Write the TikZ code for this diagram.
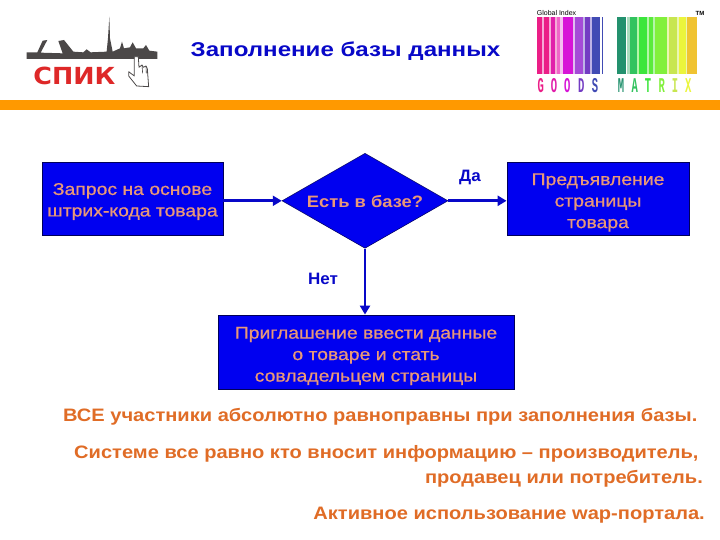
\documentclass[tikz,border=0pt]{standalone}
\usepackage{fontspec}
\setmainfont{Liberation Sans}
\newfontfamily\monof{Liberation Mono}
\newfontfamily\heavyf{DejaVu Sans}
\newfontfamily\midf[RawFeature={embolden=0.7}]{Liberation Sans}
\usetikzlibrary{shapes.geometric,arrows.meta,positioning}
\definecolor{bluefill}{RGB}{0,0,240}
\definecolor{bluetext}{RGB}{8,8,200}
\definecolor{peach}{RGB}{232,152,120}
\definecolor{orangetext}{RGB}{224,108,38}
\definecolor{bandor}{RGB}{255,153,0}
\definecolor{bordark}{RGB}{0,0,90}
\definecolor{skyg}{RGB}{75,72,72}
\definecolor{spikred}{RGB}{222,40,40}
\definecolor{bce}{RGB}{235,30,135}
\definecolor{bcf}{RGB}{225,30,170}
\definecolor{bcg}{RGB}{240,100,200}
\definecolor{bcm}{RGB}{215,20,215}
\definecolor{bcp}{RGB}{165,75,215}
\definecolor{bcv}{RGB}{115,60,195}
\definecolor{bci}{RGB}{65,75,180}
\definecolor{bcq}{RGB}{245,170,215}
\definecolor{bcr}{RGB}{245,190,240}
\definecolor{bcs}{RGB}{225,190,240}
\definecolor{bcu}{RGB}{190,180,230}
\definecolor{bct}{RGB}{35,145,110}
\definecolor{bch}{RGB}{50,195,95}
\definecolor{bcl}{RGB}{60,230,60}
\definecolor{bcj}{RGB}{90,235,60}
\definecolor{bck}{RGB}{130,240,60}
\definecolor{bcy}{RGB}{200,230,80}
\definecolor{bcz}{RGB}{235,245,60}
\definecolor{bco}{RGB}{240,195,50}
\definecolor{bcw}{RGB}{170,220,190}
\definecolor{bcn}{RGB}{180,245,170}
\definecolor{bcx}{RGB}{235,245,180}
\tikzset{
  flowbox/.style={draw=bordark,fill=bluefill,line width=0.8pt,rectangle,inner sep=0pt},
  flowdia/.style={draw=bordark,fill=bluefill,line width=0.5pt,diamond,inner sep=0pt,minimum width=166pt,minimum height=95pt,aspect=1.75},
  boxtext/.style={text=peach,font=\midf\fontsize{17}{21.5}\selectfont,align=center,inner sep=0pt,xscale=1.14,transform shape},
  diatext/.style={text=peach,font=\fontsize{16.5}{20}\selectfont\bfseries,inner sep=0pt,xscale=1.11,transform shape},
  ftext/.style={text=bluetext,font=\fontsize{16.5}{20}\selectfont\bfseries,inner sep=0pt,xscale=1.03,transform shape},
  btext/.style={text=orangetext,font=\fontsize{18}{20}\selectfont\bfseries,inner sep=0pt,xscale=1.115,transform shape},
  flow/.style={draw=bluetext,line width=2.6pt,-{Triangle[length=9pt,width=10pt]}},
  barletter/.style={font=\monof\bfseries\fontsize{21}{21}\selectfont,inner sep=0pt,xscale=.5,transform shape},
}
\begin{document}
\begin{tikzpicture}[x=1pt,y=-1pt]
\useasboundingbox (0,0) rectangle (720,540);
\fill[white] (0,0) rectangle (720,540);
% band
\fill[bandor] (0,100) rectangle (720,110.5);
% logo (coordinates from enlarged crop)
\begin{scope}[shift={(20,10)},x=0.3333pt,y=-0.3333pt]
\fill[skyg] (20,127)--(52,127)--(68,92)--(82,90)--(62,128)--(128,130)--(115,93)--(132,90)--(160,125)--(190,127)--(200,118)--(212,127)--(260,125)--(264,85)--(268,20)--(270,85)--(278,125)--(300,115)--(306,95)--(312,115)--(330,112)--(338,97)--(348,115)--(370,115)--(378,105)--(388,122)--(412,125)--(412,147)--(20,147)--cycle;
\node[inner sep=0pt,text=spikred,font=\heavyf\fontsize{23.5}{25}\selectfont\bfseries] (spik) at (163,197) {\scalebox{1.08}[1]{СПИК}};
\draw[skyg,fill=white,line width=0.8pt,line join=round] (343,140)--(355,140)--(357,172)--(366,165)--(370,172)--(378,168)--(382,176)--(386,230)--(350,228)--(326,198)--(326,185)--(343,198)--cycle;
\draw[skyg,line width=0.6pt] (366,165)--(368,190) (378,168)--(379,190);
\end{scope}
% title
\node[ftext,font=\fontsize{20}{24}\selectfont\bfseries,xscale=1.17] (title) at (345.5,51) {Заполнение базы данных};
% barcode
\begin{scope}[shift={(510,0)},x=0.3333pt,y=-0.3333pt]
\node[inner sep=0pt,font=\fontsize{7}{8}\selectfont,anchor=west] (gi) at (80,38) {Global Index};
\node[inner sep=0pt,font=\fontsize{6}{7}\selectfont\bfseries] (tm) at (570,39) {TM};
\foreach \a/\b/\c in {
 82/96/e,102/118/e,124/136/f,140/150/g,158/188/m,196/220/p,226/240/v,246/270/i,275/280/i,
 322/348/t,360/380/h,388/412/l,416/430/j,435/470/k,478/500/y,508/528/z,532/560/o,
 96/102/q,118/124/q,136/140/q,150/158/r,188/196/s,220/226/u,240/246/u,352/360/w,380/388/n,412/416/n,430/435/n,470/478/x,500/508/x,528/532/x}{
 \fill[color=bc\c] (\a,52) rectangle (\b,222);}
\foreach \ch/\xx/\c in {G/92/e,O/132/f,O/172/m,D/214/v,S/255/i,M/333/t,A/374/h,T/414/l,R/455/k,I/495/y,X/535/z}{
 \node[barletter,text=bc\c] at (\xx,256) {\ch};}
\end{scope}
% flow nodes
\node[flowbox,minimum width=181pt,minimum height=73pt,
  label={[boxtext,yshift=-2.5pt]center:Запрос на основе\\штрих-кода товара}] (q) at (132.5,199) {};
\node[flowdia] (d) at (365,200.8) {};
\node[diatext] (dt) at (365,201.5) {Есть в базе?};
\node[flowbox,minimum width=182pt,minimum height=73pt,
  label={[boxtext,yshift=-3.5pt]center:Предъявление\\страницы\\товара}] (p) at (598,199) {};
\node[flowbox,minimum width=296pt,minimum height=74pt,
  label={[boxtext,yshift=-4pt]center:Приглашение ввести данные\\о товаре и стать\\совладельцем страницы}] (inv) at (366,352) {};
% connectors
\draw[flow] (d.west -| q.east) -- (d.west);
\draw[flow] (d.east) -- (d.east -| p.west);
\draw[flow] (d.south) -- (d.south |- inv.north);
\node[ftext] (yes) at (470,177) {Да};
\node[ftext] (no) at (323,279) {Нет};
% bottom text
\node[btext,anchor=base west] (l1) at (63,421) {ВСЕ участники абсолютно равноправны при заполнения базы.};
\node[btext,anchor=base west] (l2) at (74,458) {Системе все равно кто вносит информацию – производитель,};
\node[btext,anchor=base east] (l3) at (703,483) {продавец или потребитель.};
\node[btext,anchor=base east] (l4) at (705,519) {Активное использование wap-портала.};
\end{tikzpicture}
\end{document}
